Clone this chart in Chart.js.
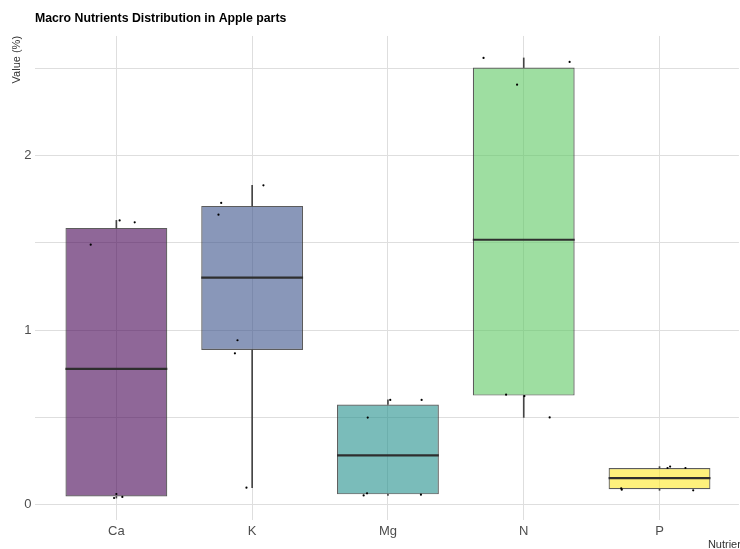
<!DOCTYPE html>
<html>
<head>
<meta charset="utf-8">
<title>Macro Nutrients Distribution in Apple parts</title>
<script src="https://cdn.jsdelivr.net/npm/chart.js@4.4.1/dist/chart.umd.min.js"></script>
<style>
  html, body { margin: 0; padding: 0; background: #ffffff; }
  #wrap { width: 740px; height: 549px; position: relative; }
</style>
</head>
<body>
<div id="wrap"><canvas id="chart"></canvas></div>
<script>
// Nutrient categories along the x axis
const nutrients = ['Ca', 'K', 'Mg', 'N', 'P'];

// Box-plot summaries per nutrient (value in %)
const whiskerLow  = [0.038, 0.097, 0.053, 0.500, 0.082];
const quartile1   = [0.047, 0.886, 0.059, 0.625, 0.088];
const medians     = [0.778, 1.301, 0.282, 1.518, 0.152];
const quartile3   = [1.586, 1.712, 0.574, 2.505, 0.210];
const whiskerHigh = [1.629, 1.830, 0.600, 2.560, 0.218];

// Individual samples: jittered category position and measured value
const sampleX = [1.024, 1.135, 0.811, 1.000, 0.983, 1.044,
                 2.083, 1.772, 1.752, 1.892, 1.873, 1.958,
                 3.017, 3.248, 2.851, 2.821, 2.846, 3.243,
                 3.704, 4.338, 3.951, 3.870, 4.005, 4.191,
                 5.059, 5.078, 5.191, 4.718, 4.722, 5.248];
const sampleY = [1.629, 1.618, 1.490, 0.061, 0.038, 0.044,
                 1.830, 1.729, 1.662, 0.942, 0.867, 0.097,
                 0.600, 0.600, 0.499, 0.053, 0.065, 0.057,
                 2.560, 2.537, 2.407, 0.630, 0.622, 0.500,
                 0.210, 0.218, 0.210, 0.093, 0.086, 0.082];

// Value-axis grid positions (labels only on whole numbers)
const yTickValues = [0, 0.5, 1, 1.5, 2, 2.5];

// Viridis palette, one colour per nutrient
const boxFill = ['rgba(68,1,84,0.6)', 'rgba(59,82,139,0.6)', 'rgba(33,144,140,0.6)',
                 'rgba(93,200,99,0.6)', 'rgba(253,231,37,0.6)'];

const FONT = '"Liberation Sans", Arial, Helvetica, sans-serif';
const BOX_INDEX = 1;

// Median bar across each box, drawn right after the boxes
const medianLines = {
  id: 'medianLines',
  afterDatasetDraw(chart, args) {
    if (args.index !== BOX_INDEX) return;
    const ctx = chart.ctx;
    const yScale = chart.scales.y;
    ctx.save();
    ctx.strokeStyle = '#2e2e2e';
    ctx.lineWidth = 2.2;
    args.meta.data.forEach((bar, i) => {
      const half = bar.width / 2;
      const y = yScale.getPixelForValue(medians[i]);
      ctx.beginPath();
      ctx.moveTo(bar.x - half, y);
      ctx.lineTo(bar.x + half, y);
      ctx.stroke();
    });
    ctx.restore();
  }
};

// Category-axis title in the bottom-right corner
const xAxisTitle = {
  id: 'xAxisTitle',
  afterDraw(chart) {
    const ctx = chart.ctx;
    ctx.save();
    ctx.font = '11px ' + FONT;
    ctx.fillStyle = '#333333';
    ctx.textAlign = 'left';
    ctx.textBaseline = 'middle';
    ctx.fillText('Nutrient', chart.chartArea.right - 31, chart.height - 4);
    ctx.restore();
  }
};

new Chart(document.getElementById('chart'), {
  type: 'bar',
  data: {
    datasets: [
      {
        type: 'scatter',
        label: 'samples',
        order: 0,
        data: sampleX.map((x, i) => ({ x: x, y: sampleY[i] })),
        pointRadius: 1.1,
        pointHoverRadius: 1.1,
        pointBackgroundColor: '#000000',
        pointBorderWidth: 0,
        showLine: false
      },
      {
        label: 'box',
        order: 1,
        data: nutrients.map((n, i) => ({ x: i + 1, y: [quartile1[i], quartile3[i]] })),
        backgroundColor: boxFill,
        borderColor: 'rgba(51,51,51,0.8)',
        borderWidth: 1.2,
        borderSkipped: false,
        grouped: false,
        barPercentage: 0.75,
        categoryPercentage: 1
      },
      {
        label: 'upper whisker',
        order: 2,
        data: nutrients.map((n, i) => ({ x: i + 1, y: [quartile3[i], whiskerHigh[i]] })),
        backgroundColor: '#444444',
        borderWidth: 0,
        barThickness: 1,
        grouped: false
      },
      {
        label: 'lower whisker',
        order: 2,
        data: nutrients.map((n, i) => ({ x: i + 1, y: [whiskerLow[i], quartile1[i]] })),
        backgroundColor: '#444444',
        borderWidth: 0,
        barThickness: 1,
        grouped: false
      }
    ]
  },
  options: {
    responsive: true,
    maintainAspectRatio: false,
    animation: false,
    events: [],
    layout: { padding: 0 },
    plugins: {
      legend: { display: false },
      tooltip: { enabled: false },
      title: {
        display: true,
        text: 'Macro Nutrients Distribution in Apple parts',
        align: 'start',
        fullSize: false,
        color: '#000000',
        font: { family: FONT, size: 12.3, weight: 'bold' },
        padding: { top: 10.8, bottom: 10.4 }
      }
    },
    scales: {
      x: {
        type: 'linear',
        min: 0.4,
        max: 5.5846,
        offset: false,
        border: { display: false },
        grid: { color: '#dedede', lineWidth: 1, drawTicks: false, offset: false },
        afterBuildTicks(scale) {
          scale.ticks = nutrients.map((n, i) => ({ value: i + 1 }));
        },
        afterFit(scale) { scale.height = 29; },
        ticks: {
          autoSkip: false,
          maxRotation: 0,
          padding: 4,
          color: '#4d4d4d',
          font: { family: FONT, size: 13 },
          callback: (v) => nutrients[Math.round(v) - 1]
        }
      },
      y: {
        type: 'linear',
        min: -0.088,
        max: 2.686,
        border: { display: false },
        grid: { color: '#dedede', lineWidth: 1, drawTicks: false },
        afterBuildTicks(scale) {
          scale.ticks = yTickValues.map(v => ({ value: v }));
        },
        afterFit(scale) { scale.width = 34.9; },
        ticks: {
          padding: 3.5,
          color: '#4d4d4d',
          font: { family: FONT, size: 13 },
          callback: (v) => (Number.isInteger(v) ? String(v) : '')
        },
        title: {
          display: true,
          text: 'Value (%)',
          align: 'end',
          color: '#333333',
          font: { family: FONT, size: 11 },
          padding: { top: 10, bottom: 0 }
        }
      }
    }
  },
  plugins: [medianLines, xAxisTitle]
});
</script>
</body>
</html>
